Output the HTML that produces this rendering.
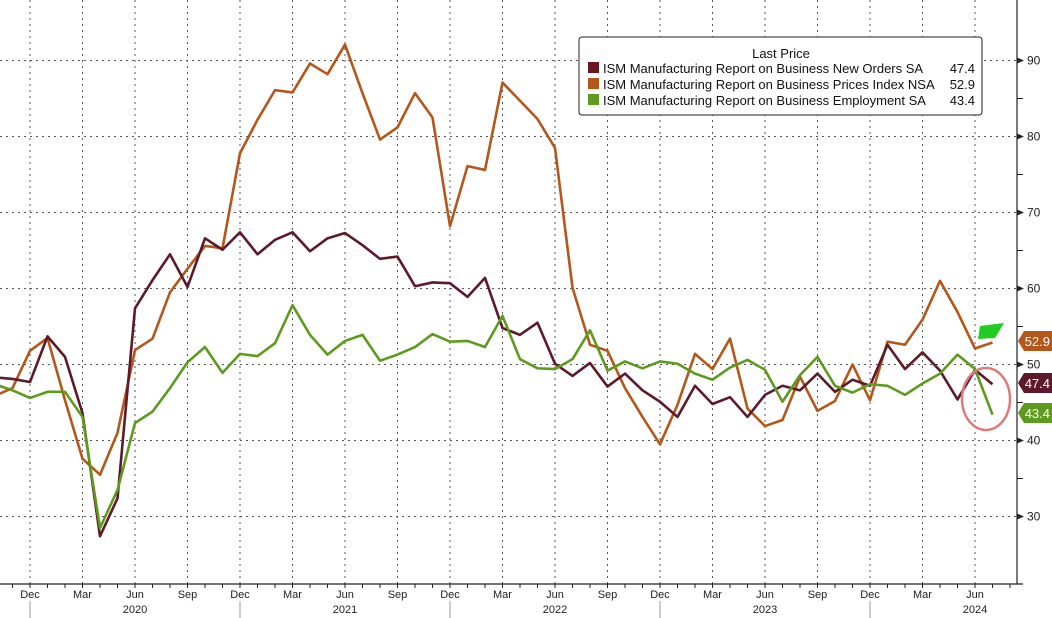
<!DOCTYPE html>
<html><head><meta charset="utf-8"><style>
html,body{margin:0;padding:0;background:#fff;}
svg{display:block;font-family:"Liberation Sans Narrow","Liberation Sans",sans-serif;}
</style></head><body>
<svg id="chart" width="1052" height="618" viewBox="0 0 1052 618" xmlns="http://www.w3.org/2000/svg">
<g id="grid"></g>
<g id="axes"></g>
<g id="series"></g>
<g id="tags"></g>
<polygon points="980,326 1004,323 995,338 978,339" fill="#22cc22"/>
<ellipse cx="986" cy="399" rx="24" ry="31" fill="none" stroke="#e07a7a" stroke-width="2.5"/>
<g>
<rect x="579" y="37" width="403" height="78" rx="3" fill="#fff" stroke="#222" stroke-width="1"/>
<text x="781" y="58" font-size="13" text-anchor="middle" fill="#111">Last Price</text>
<rect x="588" y="62" width="11" height="11" fill="#6b1620"/>
<text x="603" y="73" font-size="13" fill="#111">ISM Manufacturing Report on Business New Orders SA</text>
<text x="975" y="73" font-size="13" text-anchor="end" fill="#111">47.4</text>
<rect x="588" y="78" width="11" height="11" fill="#b5561a"/>
<text x="603" y="89" font-size="13" fill="#111">ISM Manufacturing Report on Business Prices Index NSA</text>
<text x="975" y="89" font-size="13" text-anchor="end" fill="#111">52.9</text>
<rect x="588" y="94" width="11" height="11" fill="#5e9a1e"/>
<text x="603" y="105" font-size="13" fill="#111">ISM Manufacturing Report on Business Employment SA</text>
<text x="975" y="105" font-size="13" text-anchor="end" fill="#111">43.4</text>
</g>
</svg>
<script>
const newOrders = [48.3,48.1,47.7,
53.7,51.0,43.6,27.4,32.4,57.4,61.1,64.5,60.2,66.6,65.1,67.4,
64.5,66.4,67.4,64.9,66.6,67.3,65.7,63.9,64.2,60.3,60.8,60.7,
58.9,61.4,54.8,53.9,55.5,50.1,48.5,50.2,47.1,48.8,46.6,45.1,
43.1,47.2,44.8,45.7,43.1,46.0,47.2,46.6,48.8,46.4,48.0,47.2,
52.6,49.4,51.6,49.2,45.4,49.3,47.4];
const prices = [45.9,46.9,51.8,
53.5,45.3,37.6,35.5,41.0,51.9,53.4,59.5,62.6,65.6,65.3,77.8,
82.2,86.1,85.8,89.6,88.2,92.1,85.7,79.6,81.2,85.7,82.5,68.2,
76.1,75.6,87.1,84.7,82.3,78.5,60.1,52.6,51.8,46.9,43.1,39.5,
44.7,51.4,49.4,53.4,44.2,41.9,42.7,48.4,43.9,45.2,50.0,45.3,
53.0,52.6,55.9,61.0,56.9,52.1,52.9];
const employment = [47.4,46.6,45.6,
46.4,46.4,43.1,28.5,33.5,42.3,43.8,46.9,50.3,52.3,48.9,51.4,
51.1,52.8,57.8,53.9,51.3,53.1,53.9,50.5,51.3,52.3,54.0,53.0,
53.1,52.3,56.4,50.7,49.5,49.4,50.7,54.5,49.2,50.4,49.5,50.4,
50.1,48.8,48.0,49.6,50.6,49.3,45.1,48.6,51.0,47.2,46.3,47.4,
47.2,46.0,47.5,48.8,51.3,49.4,43.4];
const yTicks = [30,40,50,60,70,80,90];
const monthNames = ["Jan","Feb","Mar","Apr","May","Jun","Jul","Aug","Sep","Oct","Nov","Dec"];
const years = [2020,2021,2022,2023,2024];
const startYear = 2019, startMonth = 9; // Oct 2019 (0-based month)

const NS = "http://www.w3.org/2000/svg";
const AXIS_X = 1017, AXIS_Y = 584;
function xOf(i){ return -5 + 17.5*i; }           // i = months since Oct 2019
function yOf(v){ return 364.5 - (v-50)*7.6; }
function mk(tag, attrs, parent){ const e=document.createElementNS(NS,tag); for(const k in attrs) e.setAttribute(k,attrs[k]); parent.appendChild(e); return e; }

const grid=document.getElementById('grid'), axes=document.getElementById('axes');
// horizontal grid + y labels
yTicks.forEach(t=>{
  const l=mk('line',{x1:0,x2:AXIS_X,y1:yOf(t),y2:yOf(t),stroke:'#555','stroke-width':1,'stroke-dasharray':'2,4'},grid);
  
  
  mk('polygon',{points:`${AXIS_X},${yOf(t)-3} ${AXIS_X+7},${yOf(t)} ${AXIS_X},${yOf(t)+3}`,fill:'#222'},axes);
  const tx=mk('text',{x:AXIS_X+10,y:yOf(t)+4,'font-size':12,fill:'#222'},axes);
  tx.textContent=t;
  
  
});
[35,45,55,65,75,85].forEach(t=>mk('line',{x1:AXIS_X,x2:AXIS_X+6,y1:yOf(t),y2:yOf(t),stroke:'#222'},axes));
// months
const n = newOrders.length;
for(let i=0;i<=n;i++){
  const m=(startMonth+i)%12, yr=startYear+Math.floor((startMonth+i)/12);
  const x=xOf(i);
  if(x>AXIS_X) break;
  mk('line',{x1:x,x2:x,y1:AXIS_Y,y2:AXIS_Y+4,stroke:'#222'},axes);
  if(m%3===2){
    const g=mk('line',{x1:x,x2:x,y1:0,y2:AXIS_Y,stroke:'#555','stroke-width':1,'stroke-dasharray':'2,4'},grid);
    
    
    const tx=mk('text',{x:x,y:598,'font-size':11,'text-anchor':'middle',fill:'#222'},axes);
    tx.textContent=monthNames[m];
    
    
  }
  if(m===11){ mk('line',{x1:x,x2:x,y1:601,y2:618,stroke:'#999'},axes); }
  if(m===5 && years.includes(yr)){
    const ty=mk('text',{x:x,y:613,'font-size':11,'text-anchor':'middle',fill:'#222'},axes);
    ty.textContent=yr;
    
    
  }
}
mk('line',{x1:0,x2:AXIS_X+6,y1:AXIS_Y,y2:AXIS_Y,stroke:'#222','stroke-width':1.2},axes);
mk('line',{x1:AXIS_X,x2:AXIS_X,y1:0,y2:AXIS_Y,stroke:'#222','stroke-width':1.2},axes);

const series=document.getElementById('series');
function drawLine(data,color,name){
  const p=mk('polyline',{points:data.map((v,i)=>xOf(i)+','+yOf(v)).join(' '),fill:'none',stroke:color,'stroke-width':2.6,'stroke-linejoin':'round'},series);
  
  
}
drawLine(prices,'#b5561a','prices-line');
drawLine(newOrders,'#5e1a2a','new-orders-line');
drawLine(employment,'#5e9a1e','employment-line');

const tags=document.getElementById('tags');
function tag(v,color,name,yPos){
  const y=yPos, x=AXIS_X+1;
  mk('polygon',{points:`${x},${y} ${x+6},${y-10} ${1052},${y-10} ${1052},${y+10} ${x+6},${y+10}`,fill:color},tags);
  const t=mk('text',{x:1050,y:y+5,'font-size':13,'text-anchor':'end',fill:'#fff'},tags);
  t.textContent=v.toFixed(1);
  
  
}
tag(prices[n-1],'#b5561a','prices-last-tag',341);
tag(newOrders[n-1],'#5e1a2a','new-orders-last-tag',383);
tag(employment[n-1],'#5e9a1e','employment-last-tag',413);
</script>
</body></html>
